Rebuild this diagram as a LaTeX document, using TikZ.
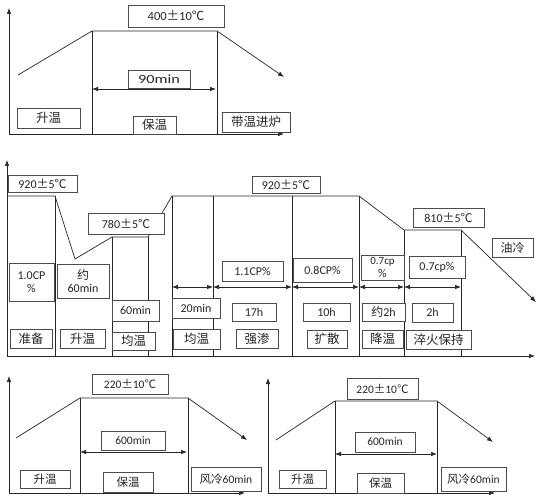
\documentclass[tikz,border=0pt]{standalone}
\usepackage{fontspec}
\setmainfont{Carlito}
\newfontfamily\cjk{Noto Sans CJK SC}
\usetikzlibrary{arrows.meta}
\newcommand\zh[1]{{\cjk #1}}
\newcommand\tmp[2]{#1\zh{±}#2\zh{℃}}
\newcommand\B[6]{\node[bx,minimum width=#4pt,minimum height=#5pt] (#1) at (#2,#3) {#6};}
\tikzset{
 ln/.style={line width=0.7pt, draw=black!85},
 bx/.style={draw=black!70, line width=0.8pt, fill=white, inner sep=0pt, align=center, text=black!85},
 arr/.style={ln,-{Latex[length=6pt,width=4.5pt]}},
 dim/.style={ln,{Latex[length=6pt,width=4.5pt]}-{Latex[length=6pt,width=4.5pt]}},
}
\begin{document}
\begin{tikzpicture}[x=1pt,y=-1pt]
\useasboundingbox (0,0) rectangle (541,500);
\fill[white] (0,0) rectangle (541,500);
% ---------------- panel 1
\begin{scope}[font=\fontsize{12.5}{14}\selectfont]
\coordinate (a0) at (9,134);
\coordinate (a1) at (9,8);
\coordinate (a2) at (284,134);
\draw[arr] (a0) -- (a1);
\draw[arr] (a0) -- (a2);
\coordinate (p1) at (18,75);
\coordinate (p2) at (92,31);
\coordinate (p3) at (217,31);
\coordinate (p4) at (284,77);
\coordinate (q2) at (92,134);
\coordinate (q3) at (217,134);
\draw[ln] (p1) -- (p2) -- (p3);
\draw[arr] (p3) -- (p4);
\draw[ln] (p2) -- (q2);
\draw[ln] (p3) -- (q3);
\coordinate (d1) at (92,89);
\coordinate (d2) at (216,89);
\draw[dim] (d1) -- (d2);
\B{t1}{176}{16}{96}{22}{\tmp{400}{10}}
\B{m1}{159}{79}{62}{18}{\raisebox{-3pt}{\scalebox{1.3}[1]{90min}}}
\B{s1}{48.5}{118}{63}{20}{\zh{升温}}
\B{s2}{154.5}{125}{43}{18}{\zh{保温}}
\B{s3}{256}{122}{68}{20}{\zh{带温进炉}}
\end{scope}
% ---------------- panel 2
\begin{scope}[font=\fontsize{12}{13.5}\selectfont]
\coordinate (b0) at (7,356);
\coordinate (b1) at (7,160);
\coordinate (b2) at (535,356);
\draw[arr] (b0) -- (b1);
\draw[arr] (b0) -- (b2);
\coordinate (r0) at (7,196);
\coordinate (r1) at (55,196);
\coordinate (r2) at (75,259);
\coordinate (r3) at (112,237);
\coordinate (r4) at (148,237);
\coordinate (r5) at (172,196);
\coordinate (r6) at (359,196);
\coordinate (r7) at (404,230);
\coordinate (r8) at (461,230);
\coordinate (r9) at (536,302);
\draw[ln] (r0) -- (r1) -- (r2) -- (r3) -- (r4) -- (r5) -- (r6) -- (r7) -- (r8);
\draw[arr] (r8) -- (r9);
\foreach \x/\y [count=\i] in {55/196,112/237,148/237,172/196,213/196,292/196,359/196,404/230,461/230}{
  \coordinate (vt\i) at (\x,\y);
  \coordinate (vb\i) at (\x,356);
  \draw[ln] (vt\i) -- (vb\i);
}
\foreach \xa/\xb [count=\i] in {172/213,213/292,292/359,359/404,404/461}{
  \coordinate (da\i) at (\xa,287);
  \coordinate (db\i) at (\xb,287);
  \draw[dim] (da\i) -- (db\i);
}
\B{u1}{42.5}{183.5}{69}{17}{\tmp{920}{5}}
\B{u2}{126}{223.5}{76}{21}{\tmp{780}{5}}
\B{u3}{286}{184.5}{68}{17}{\tmp{920}{5}}
\B{u4}{448.5}{217.5}{71}{19}{\tmp{810}{5}}
\B{u5}{512.5}{247.5}{41}{19}{\zh{油冷}}
\B{c1}{31.5}{282}{45}{38}{1.0CP\\\%}
\B{c2}{83}{281}{52}{34}{\zh{约}\\60min}
\B{c3}{135.5}{310.5}{47}{21}{60min}
\B{c4}{196}{308}{48}{20}{20min}
\B{c5}{252.5}{271}{61}{20}{1.1CP\%}
\B{c6}{254}{312}{44}{18}{17h}
\B{c7}{322.5}{270}{59}{24}{0.8CP\%}
\B{c8}{326.5}{312}{47}{18}{10h}
\B{c9}{382.5}{267.5}{43}{25}{\fontsize{11}{12}\selectfont 0.7cp\\\%}
\B{c10}{383.5}{312}{43}{18}{\zh{约}2h}
\B{c11}{437}{267}{56}{22}{0.7cp\%}
\B{c12}{432.5}{312.5}{41}{19}{2h}
\begin{scope}[font=\fontsize{12.5}{14}\selectfont]
\B{l1}{31}{338.5}{42}{19}{\zh{准备}}
\B{l2}{82.5}{338.5}{45}{19}{\zh{升温}}
\B{l3}{133.5}{341}{43}{18}{\zh{均温}}
\B{l4}{196.5}{339}{47}{20}{\zh{均温}}
\B{l5}{257}{338.5}{42}{19}{\zh{强渗}}
\B{l6}{327}{339}{40}{18}{\zh{扩散}}
\B{l7}{382.5}{339}{41}{18}{\zh{降温}}
\B{l8}{438.5}{339.5}{65}{19}{\zh{淬火保持}}
\end{scope}
\end{scope}
% ---------------- panel 3
\begin{scope}[font=\fontsize{11.5}{13}\selectfont]
\coordinate (e0) at (9,493);
\coordinate (e1) at (9,376);
\coordinate (e2) at (245,493);
\draw[arr] (e0) -- (e1);
\draw[arr] (e0) -- (e2);
\coordinate (f1) at (16,438);
\coordinate (f2) at (80,398);
\coordinate (f3) at (188,398);
\coordinate (f4) at (247,440);
\coordinate (g2) at (80,493);
\coordinate (g3) at (188,493);
\draw[ln] (f1) -- (f2) -- (f3);
\draw[arr] (f3) -- (f4);
\draw[ln] (f2) -- (g2);
\draw[ln] (f3) -- (g3);
\coordinate (h1) at (80,452);
\coordinate (h2) at (187,452);
\draw[dim] (h1) -- (h2);
\B{w1}{130}{384}{76}{20}{\tmp{220}{10}}
\B{w2}{133}{440.5}{64}{19}{600min}
\B{w3}{45}{479}{50}{18}{\zh{升温}}
\B{w4}{128}{482}{50}{20}{\zh{保温}}
\B{w5}{226}{479}{70}{24}{\zh{风冷}60min}
\end{scope}
% ---------------- panel 4
\begin{scope}[font=\fontsize{11.5}{13}\selectfont]
\coordinate (k0) at (268,493);
\coordinate (k1) at (268,378);
\coordinate (k2) at (495,493);
\draw[arr] (k0) -- (k1);
\draw[arr] (k0) -- (k2);
\coordinate (m1) at (276,440);
\coordinate (m2) at (335,401);
\coordinate (m3) at (437,401);
\coordinate (m4) at (493,442);
\coordinate (n2) at (335,493);
\coordinate (n3) at (437,493);
\draw[ln] (m1) -- (m2) -- (m3);
\draw[arr] (m3) -- (m4);
\draw[ln] (m2) -- (n2);
\draw[ln] (m3) -- (n3);
\coordinate (o1) at (335,454);
\coordinate (o2) at (437,454);
\draw[dim] (o1) -- (o2);
\B{y1}{382.5}{388.5}{71}{21}{\tmp{220}{10}}
\B{y2}{385}{442}{60}{20}{600min}
\B{y3}{302.5}{479}{47}{18}{\zh{升温}}
\B{y4}{380.5}{483}{47}{20}{\zh{保温}}
\B{y5}{473.5}{479}{65}{24}{\zh{风冷}60min}
\end{scope}
\end{tikzpicture}
\end{document}
